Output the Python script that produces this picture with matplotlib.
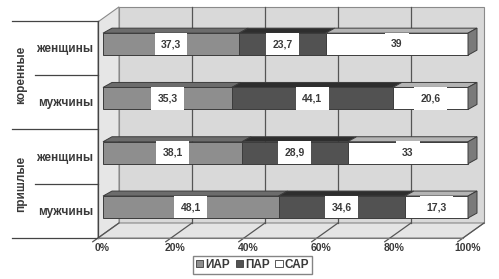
#!/usr/bin/env python3
import matplotlib
matplotlib.use('Agg')
import matplotlib.pyplot as plt
from matplotlib.patches import Polygon, Patch

plt.rcParams['font.family'] = ['Liberation Sans', 'DejaVu Sans']
plt.rcParams['font.weight'] = 'bold'

# data, bottom row first
groups = ['пришлые', 'коренные']
rows = ['мужчины', 'женщины', 'мужчины', 'женщины']
series = ['ИАР', 'ПАР', 'САР']
iar = [48.1, 38.1, 35.3, 37.3]
par = [34.6, 28.9, 44.1, 23.7]
sar = [17.3, 33.0, 20.6, 39.0]
xticks = [0, 20, 40, 60, 80, 100]

face = ['#8e8e8e', '#525252', '#ffffff']
top = ['#6c6c6c', '#2e2e2e', '#b4b4b4']
edge = '#3c3c3c'
txt = '#3a3a3a'

# px -> data scale (1 unit x = 3.65 px, 1 unit y = 54.3 px)
SX, SY = 3.65, 54.3
DX, DY = 21 / SX, 15 / SY        # depth of the box
BX = 5 / SX                      # bar front plane shift
TX, TY = 9 / SX, 5 / SY          # bar depth
H = 22 / SY                      # bar height
FLOOR = -0.57
CEIL = 3.41

fig = plt.figure(figsize=(4.99, 2.79), dpi=100)
ax = fig.add_axes([0, 0, 1, 1])
ax.set_xlim(-98 / SX, (499 - 98) / SX)
ax.set_ylim(FLOOR - 41 / SY, FLOOR + 238 / SY)
ax.axis('off')

# walls
wall = dict(edgecolor='#8a8a8a', lw=0.8, zorder=1)
ax.add_patch(Polygon([(DX, FLOOR + DY), (100 + DX, FLOOR + DY),
                      (100 + DX, CEIL + DY), (DX, CEIL + DY)],
                     facecolor='#d9d9d9', **wall))
ax.add_patch(Polygon([(0, FLOOR), (DX, FLOOR + DY), (DX, CEIL + DY), (0, CEIL)],
                     facecolor='#e6e6e6', **wall))
ax.add_patch(Polygon([(0, FLOOR), (100, FLOOR), (100 + DX, FLOOR + DY), (DX, FLOOR + DY)],
                     facecolor='#e4e4e4', **wall))
for t in xticks[1:-1]:
    ax.plot([t + DX, t + DX], [FLOOR + DY, CEIL + DY], color='#555555', lw=0.9, zorder=1.5)
for t in xticks:
    ax.plot([t - 0.25 * DX, t + DX], [FLOOR - 0.25 * DY, FLOOR + DY],
            color='#555555', lw=0.9, zorder=1.5)
    ax.text(t + 1.2, FLOOR - 0.1, '%d%%' % t, ha='center', va='top',
            fontsize=7.5, color=txt)

# stacked bars with fake 3d tops
ys = range(len(rows))
lefts = [0.0] * len(rows)
for k, vals in enumerate([iar, par, sar]):
    ax.barh(ys, vals, left=[l + BX for l in lefts], height=H, color=face[k],
            edgecolor=edge, lw=0.7, zorder=3)
    for i, v in enumerate(vals):
        x0 = lefts[i] + BX
        yt = i + H / 2
        ax.add_patch(Polygon([(x0, yt), (x0 + v, yt), (x0 + v + TX, yt + TY), (x0 + TX, yt + TY)],
                             facecolor=top[k], edgecolor=edge, lw=0.7, zorder=3))
        ax.text(x0 + v / 2, i, ('%g' % v).replace('.', ','), ha='center', va='center',
                fontsize=7.5, color=txt, zorder=5,
                bbox=dict(boxstyle='square,pad=0.6', fc='white', ec='none'))
        lefts[i] += v
for i in ys:
    x1 = lefts[i] + BX
    ax.add_patch(Polygon([(x1, i - H / 2), (x1 + TX, i - H / 2 + TY),
                          (x1 + TX, i + H / 2 + TY), (x1, i + H / 2)],
                         facecolor='#7a7a7a', edgecolor=edge, lw=0.7, zorder=3))

# category labels on the left
for i, name in enumerate(rows):
    ax.text(-1.4, i - 0.09, name, ha='right', va='center', fontsize=8.5, color=txt)
bounds = [FLOOR + j for j in range(5)]
for j, b in enumerate(bounds):
    x0 = -86 / SX if j % 2 == 0 else -63 / SX
    ax.plot([x0, 0], [b, b], color='#444444', lw=0.9, zorder=2)
ax.plot([0, 0], [FLOOR, bounds[-1]], color='#444444', lw=0.9, zorder=2)
ax.plot([0, 100], [FLOOR, FLOOR], color='#777777', lw=0.8, zorder=2)
for g, name in enumerate(groups):
    ax.text(-77 / SX, FLOOR + 2 * g + 1, name, rotation=90, ha='center', va='center',
            fontsize=8.5, color=txt)

handles = [Patch(facecolor=face[k], edgecolor=edge, lw=0.6) for k in range(3)]
fig.legend(handles, series, loc='lower center', bbox_to_anchor=(0.506, 0.01), ncol=3,
           fontsize=8.5, frameon=True, fancybox=False, edgecolor='#666666',
           handlelength=0.6, handleheight=0.6, handletextpad=0.2, columnspacing=0.5,
           borderpad=0.25, borderaxespad=0.2, labelcolor=txt)

fig.savefig('out.png', dpi=100)
